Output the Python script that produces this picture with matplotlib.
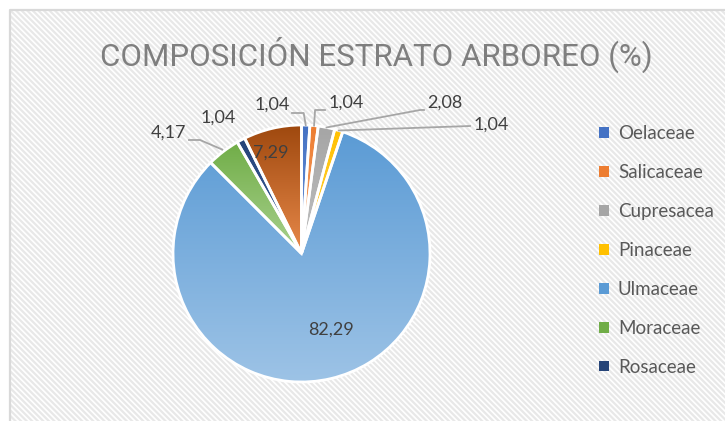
import numpy as np
import matplotlib
matplotlib.use("Agg")
import matplotlib.pyplot as plt
from matplotlib.patches import Rectangle, Patch
from matplotlib.colors import LinearSegmentedColormap

# ---- data ----
families = ["Oelaceae", "Salicaceae", "Cupresacea", "Pinaceae",
            "Ulmaceae", "Moraceae", "Rosaceae", ""]
values = [1.04, 1.04, 2.08, 1.04, 82.29, 4.17, 1.04, 7.29]
top_colors = ["#4472C4", "#ED7D31", "#A5A5A5", "#FFC000",
              "#5B9BD5", "#70AD47", "#264478", "#9E480E"]
bottom_colors = ["#6F93D6", "#F4A46E", "#C0C0C0", "#FFD44D",
                 "#9DC3E6", "#A9D18E", "#3A5F9E", "#E8894A"]
title = "COMPOSICIÓN ESTRATO ARBOREO (%)"

W, H = 725, 421
plt.rcParams["font.family"] = ["Lato", "DejaVu Sans"]
plt.rcParams["hatch.linewidth"] = 1.6

fig = plt.figure(figsize=(W / 100, H / 100), dpi=100)
ax = fig.add_axes([0, 0, 1, 1])

def py(y):
    """convert a top-down pixel row into the axes y coordinate"""
    return H - y

# chart area with diagonal pattern fill
ax.add_patch(Rectangle((10, -10), W + 10, py(10) + 10, facecolor="white",
                       edgecolor="#E8E8E8", hatch="\\" * 6, lw=0, zorder=0))
ax.plot([10, 10, W + 5], [-5, py(10), py(10)], color="#D9D9D9", lw=1.6,
        zorder=1, solid_capstyle="butt")

cx, cy, r = 301.5, py(253.5), 128.5
wedges, _ = ax.pie(values, startangle=90, counterclock=False,
                   center=(cx, cy), radius=r, frame=True,
                   wedgeprops=dict(edgecolor="white", linewidth=2))

# vertical gradient fill inside each wedge
for w, c0, c1 in zip(wedges, top_colors, bottom_colors):
    th = np.radians(np.linspace(w.theta1, w.theta2, 100))
    xs = np.concatenate([[cx], cx + r * np.cos(th)])
    ys = np.concatenate([[cy], cy + r * np.sin(th)])
    cmap = LinearSegmentedColormap.from_list("g", [c1, c0])
    grad = np.linspace(0, 1, 256).reshape(-1, 1)
    im = ax.imshow(grad, cmap=cmap, origin="lower", aspect="auto",
                   extent=(xs.min(), xs.max(), ys.min(), ys.max()), zorder=2)
    im.set_clip_path(w)
    w.set_facecolor("none")
    w.set_zorder(3)
ax.set_xlim(0, W)
ax.set_ylim(0, H)
ax.axis("off")

def fmt(v):
    return f"{v:.2f}".replace(".", ",")

def mid_point(w):
    a = np.radians((w.theta1 + w.theta2) / 2)
    return cx + r * np.cos(a), cy + r * np.sin(a)

lab_kw = dict(fontsize=13, color="#404040", zorder=5)
lead_kw = dict(color="#A6A6A6", lw=1.3, zorder=4)

# Oelaceae
x0, y0 = mid_point(wedges[0])
ax.plot([x0, x0 - 2, 292], [y0, py(113), py(113)], **lead_kw)
ax.text(290, py(105), fmt(values[0]), ha="right", va="center", **lab_kw)
# Salicaceae
x0, y0 = mid_point(wedges[1])
ax.plot([x0, x0 + 1, 325], [y0, py(110), py(110)], **lead_kw)
ax.text(329, py(103), fmt(values[1]), ha="left", va="center", **lab_kw)
# Cupresacea
x0, y0 = mid_point(wedges[2])
ax.plot([x0, 420, 424], [y0, py(110), py(110)], **lead_kw)
ax.text(427, py(103), fmt(values[2]), ha="left", va="center", **lab_kw)
# Pinaceae
x0, y0 = mid_point(wedges[3])
ax.plot([x0, 470], [y0, py(126)], **lead_kw)
ax.text(474, py(125), fmt(values[3]), ha="left", va="center", **lab_kw)
# Ulmaceae
ax.text(331, py(330), fmt(values[4]), ha="center", va="center", **lab_kw)
# Moraceae
x0, y0 = mid_point(wedges[5])
ax.plot([x0 - 1, 200, 189], [y0 + 2, py(140), py(140)], **lead_kw)
ax.text(186, py(133), fmt(values[5]), ha="right", va="center", **lab_kw)
# Rosaceae
ax.text(218, py(118), fmt(values[6]), ha="center", va="center", **lab_kw)
# remaining slice
ax.text(271, py(153), fmt(values[7]), ha="center", va="center", **lab_kw)

# title
ax.text(376, py(55), title, ha="center", va="center", fontsize=22.5,
        family=["Roboto", "DejaVu Sans"], fontweight="normal",
        color="#7F7F7F", zorder=5)

# legend
handles = [Patch(facecolor=c, edgecolor="none") for c in top_colors[:7]]
leg = ax.legend(handles, families[:7], loc="upper left",
                bbox_to_anchor=(586 / W, 1 - 112 / H), frameon=False,
                fontsize=13.5, labelcolor="#595959", handlelength=0.5,
                handleheight=0.5, handletextpad=0.5, labelspacing=1.17,
                borderpad=0.2)

fig.savefig("out.png", dpi=100)
